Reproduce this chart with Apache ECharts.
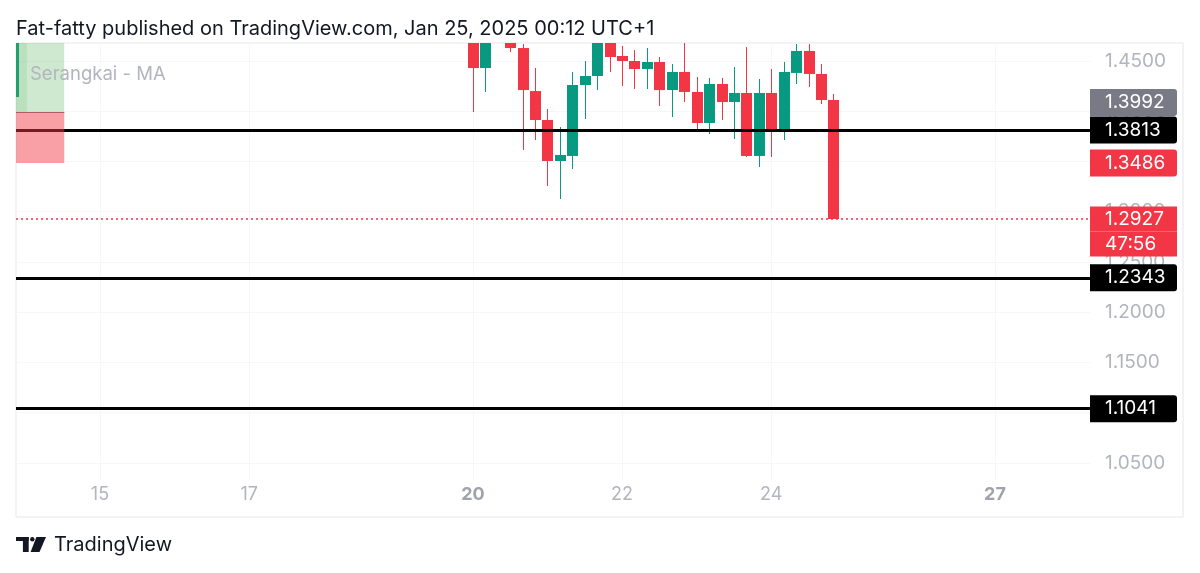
<!DOCTYPE html>
<html>
<head>
<meta charset="utf-8">
<script src="https://cdn.jsdelivr.net/npm/echarts@6/dist/echarts.min.js"></script>
<style>
html,body{margin:0;padding:0;background:#fff;}
#chart{width:1200px;height:573px;}
</style>
</head>
<body>
<div id="chart"></div>
<script>
// ---------- data ----------
const candleTimes = ['13 20:00',
  '20 00:00','20 04:00','20 08:00','20 12:00','20 16:00','20 20:00',
  '21 00:00','21 04:00','21 08:00','21 12:00','21 16:00','21 20:00',
  '22 00:00','22 04:00','22 08:00','22 12:00','22 16:00','22 20:00',
  '23 00:00','23 04:00','23 08:00','23 12:00','23 16:00','23 20:00',
  '24 00:00','24 04:00','24 08:00','24 12:00','24 16:00','24 20:00'];
const openValues  = [1.4142,
  1.4750,1.4430,1.4800,1.4720,1.4629,1.4201,
  1.3913,1.3505,1.3555,1.4261,1.4351,1.4710,
  1.4550,1.4500,1.4420,1.4490,1.4211,1.4391,
  1.4192,1.3883,1.4271,1.4092,1.4182,1.3555,
  1.4182,1.3803,1.4381,1.4600,1.4371,1.4112];
const closeValues = [1.5000,
  1.4430,1.4800,1.4720,1.4629,1.4211,1.3913,
  1.3505,1.3565,1.4261,1.4351,1.4720,1.4540,
  1.4500,1.4420,1.4490,1.4211,1.4391,1.4192,
  1.3883,1.4271,1.4092,1.4182,1.3555,1.4182,
  1.3803,1.4391,1.4600,1.4371,1.4112,1.2927];
const lowValues   = [1.4100,
  1.3993,1.4192,1.4690,1.4590,1.3614,1.3714,
  1.3256,1.3127,1.3425,1.3923,1.4211,1.4391,
  1.4251,1.4221,1.4221,1.4052,1.3943,1.4092,
  1.3793,1.3774,1.3913,1.3724,1.3545,1.3445,
  1.3545,1.3714,1.4271,1.4241,1.4072,1.2927];
const highValues  = [1.5100,
  1.4850,1.4880,1.4900,1.4760,1.4669,1.4430,
  1.4022,1.3843,1.4391,1.4500,1.4780,1.4760,
  1.4649,1.4609,1.4629,1.4540,1.4470,1.4700,
  1.4341,1.4331,1.4331,1.4440,1.4639,1.4321,
  1.4420,1.4490,1.4669,1.4669,1.4470,1.4172];
const candleHours = 4;

const priceTicks = [1.05, 1.10, 1.15, 1.20, 1.25, 1.30, 1.35, 1.40, 1.45];
const dayTicks = [15, 17, 20, 22, 24, 27];
const boldDays = [20, 27];

const levelLines = [1.3813, 1.2343, 1.1041];
const lastPrice = 1.2927;
const countdown = '47:56';
const entryPrice = 1.3992;
const stopPrice = 1.3486;
const positionEnd = '14 12:30';

const titleText = 'Fat-fatty published on TradingView.com, Jan 25, 2025 00:12 UTC+1';
const indicatorText = 'Serangkai - MA';
const brandText = 'TradingView';

// ---------- helpers ----------
function toDay(s) {
  const parts = s.split(' ');
  const hm = parts[1].split(':');
  return Number(parts[0]) + (Number(hm[0]) + Number(hm[1]) / 60) / 24;
}
const UP = '#089981', DOWN = '#f23645';
const FONT = 'Inter';
const CLEAR = 'rgba(0,0,0,0)';

const xMin = 13.874, xMax = 28.274;
const yMin = 1.03308, yMax = 1.46791;

const source = candleTimes.map((t, i) => [toDay(t), openValues[i], closeValues[i], lowValues[i], highValues[i]]);

function renderCandle(params, api) {
  const t = api.value(0), o = api.value(1), c = api.value(2), l = api.value(3), h = api.value(4);
  const pO = api.coord([t, o]), pC = api.coord([t, c]);
  const pL = api.coord([t, l]), pH = api.coord([t, h]);
  const slot = api.size([candleHours / 24, 0])[0];
  const bw = Math.round(slot * 0.85);
  const xc = Math.round(pO[0]);
  const color = c >= o ? UP : DOWN;
  const cs = params.coordSys;
  const area = {x: cs.x, y: cs.y, width: cs.width, height: cs.height};
  const body = echarts.graphic.clipRectByRect({
    x: xc - Math.floor(bw / 2), y: Math.min(pO[1], pC[1]),
    width: bw, height: Math.max(1, Math.abs(pO[1] - pC[1]))
  }, area);
  const wick = echarts.graphic.clipRectByRect({
    x: xc, y: pH[1], width: 1, height: pL[1] - pH[1]
  }, area);
  const children = [];
  if (wick) children.push({type: 'rect', shape: wick, style: {fill: color}});
  if (body) children.push({type: 'rect', shape: body, style: {fill: color}});
  return {type: 'group', children: children};
}

const boxLabel = (bg) => ({
  show: true, position: 'end', distance: 0,
  backgroundColor: bg, color: '#fff', fontFamily: FONT, fontSize: 19,
  lineHeight: 19, padding: [4, 10, 4, 15], width: 62, borderRadius: [0, 3, 3, 0]
});

const markLineData = [];
levelLines.forEach(v => {
  markLineData.push({
    yAxis: v,
    lineStyle: {color: '#000', width: 3, type: 'solid'},
    label: Object.assign(boxLabel('#000'), {formatter: v.toFixed(4)})
  });
});
markLineData.push({
  yAxis: stopPrice,
  lineStyle: {color: CLEAR, width: 0},
  label: Object.assign(boxLabel(DOWN), {formatter: stopPrice.toFixed(4)})
});
markLineData.push({
  yAxis: entryPrice,
  lineStyle: {color: CLEAR, width: 0},
  label: {
    show: true, position: 'end', distance: 0,
    formatter: '{v|' + entryPrice.toFixed(4) + '}\n{e| }',
    rich: {
      v: {backgroundColor: '#787b86', color: '#fff', fontFamily: FONT, fontSize: 19,
          lineHeight: 27, height: 27, width: 62, padding: [0, 10, 0, 15], borderRadius: [0, 3, 3, 0]},
      e: {lineHeight: 19, height: 19, fontSize: 10, color: CLEAR}
    }
  }
});
markLineData.push({
  yAxis: lastPrice,
  lineStyle: {color: DOWN, width: 1.6, type: [2, 3], opacity: 1},
  label: {
    show: true, position: 'end', distance: 0,
    formatter: '{e| }\n{v|' + lastPrice.toFixed(4) + '}\n{w|' + countdown + '}',
    rich: {
      v: {backgroundColor: DOWN, color: '#fff', fontFamily: FONT, fontSize: 19,
          lineHeight: 25, height: 25, width: 62, padding: [0, 10, 0, 15]},
      w: {backgroundColor: DOWN, color: '#fff', fontFamily: FONT, fontSize: 19,
          lineHeight: 25, height: 25, width: 62, padding: [0, 10, 0, 15]},
      e: {lineHeight: 25, height: 25, fontSize: 10, color: CLEAR}
    }
  }
});
markLineData.push([
  {coord: [xMin, entryPrice], lineStyle: {color: '#787b86', width: 1, type: 'solid'}, label: {show: false}},
  {coord: [toDay(positionEnd), entryPrice]}
]);

const option = {
  animation: false,
  backgroundColor: '#fff',
  title: [
    {text: titleText, left: 11, top: 14,
     textStyle: {fontFamily: FONT, fontSize: 20, fontWeight: 'normal', color: '#131722'}},
    {text: indicatorText, left: 25, top: 60,
     textStyle: {fontFamily: FONT, fontSize: 18.5, fontWeight: 'normal', color: '#b2b5be'}},
    {text: brandText, left: 49, top: 530,
     textStyle: {fontFamily: FONT, fontSize: 20, fontWeight: 'normal', color: '#131722'}}
  ],
  graphic: [
    {type: 'rect', left: 16, top: 537, shape: {width: 12.7, height: 4}, style: {fill: '#131722'}},
    {type: 'rect', left: 22.9, top: 537, shape: {width: 5.8, height: 15}, style: {fill: '#131722'}},
    {type: 'circle', shape: {cx: 32.3, cy: 539.2, r: 2.2}, style: {fill: '#131722'}},
    {type: 'polygon', shape: {points: [[36.4, 537], [46, 537], [39.5, 552], [30.6, 552]]}, style: {fill: '#131722'}}
  ],
  grid: [
    {left: 16, top: 43, right: 110, bottom: 93, show: false},
    {left: 16, top: 43, right: 17, bottom: 56, show: true, borderColor: '#e6e7eb', borderWidth: 1, backgroundColor: 'transparent'}
  ],
  xAxis: [
    {
      type: 'value', gridIndex: 0, min: xMin, max: xMax,
      axisLine: {show: false},
      axisTick: {show: false, customValues: dayTicks},
      splitLine: {show: true, lineStyle: {color: '#f6f7f9', width: 1}},
      axisLabel: {
        customValues: dayTicks, margin: 6,
        fontFamily: FONT, fontSize: 18, color: '#b2b5be',
        formatter: v => boldDays.indexOf(Math.round(v)) >= 0 ? '{b|' + Math.round(v) + '}' : String(Math.round(v)),
        rich: {b: {fontFamily: FONT, fontSize: 18, fontWeight: 'bold', color: '#a0a3ab'}}
      }
    },
    {type: 'value', gridIndex: 1, show: false, min: 0, max: 1}
  ],
  yAxis: [
    {
      type: 'value', gridIndex: 0, position: 'right', min: yMin, max: yMax,
      axisLine: {show: false},
      axisTick: {show: false, customValues: priceTicks},
      splitLine: {show: true, lineStyle: {color: '#f6f7f9', width: 1}},
      axisLabel: {
        customValues: priceTicks, margin: 15, align: 'left',
        fontFamily: FONT, fontSize: 19, color: '#b2b5be',
        formatter: v => v.toFixed(4)
      }
    },
    {type: 'value', gridIndex: 1, show: false, min: 0, max: 1}
  ],
  dataset: {source: source},
  series: [
    {
      type: 'custom',
      xAxisIndex: 0, yAxisIndex: 0,
      renderItem: renderCandle,
      encode: {x: 0, y: [1, 2, 3, 4]},
      markLine: {
        silent: true, symbol: 'none', animation: false, z: 3, precision: 6,
        data: markLineData
      },
      markArea: {
        silent: true, z: 4,
        data: [
          [{coord: [xMin, yMax], itemStyle: {color: 'rgba(76,175,80,0.27)'}}, {coord: [toDay(positionEnd), entryPrice]}],
          [{coord: [xMin, yMax], itemStyle: {color: 'rgba(76,175,80,0.15)'}}, {coord: [14.02, entryPrice]}],
          [{coord: [xMin, entryPrice], itemStyle: {color: 'rgba(242,54,69,0.48)'}}, {coord: [toDay(positionEnd), stopPrice]}]
        ]
      }
    }
  ]
};

const chart = echarts.init(document.getElementById('chart'), null, {renderer: 'canvas'});
chart.setOption(option);
</script>
</body>
</html>
